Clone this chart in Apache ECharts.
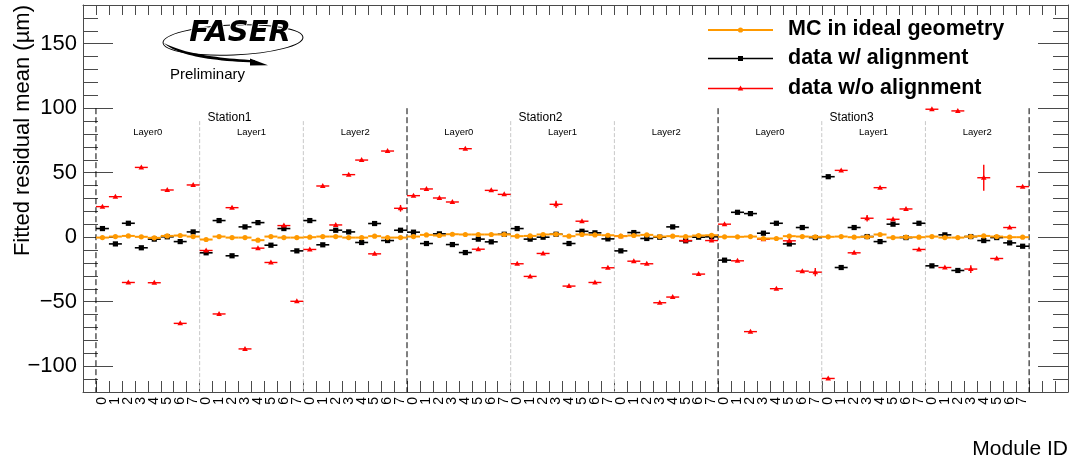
<!DOCTYPE html>
<html>
<head>
<meta charset="utf-8">
<script src="https://cdn.jsdelivr.net/npm/echarts@6/dist/echarts.min.js"></script>
<style>
  html, body { margin: 0; padding: 0; background: #ffffff; }
  #chart { width: 1073px; height: 460px; }
</style>
</head>
<body>
<div id="chart"></div>
<script>
// Tracker geometry: 3 stations x 3 layers x 8 modules
const stations = ['Station1', 'Station2', 'Station3'];
const layers = ['Layer0', 'Layer1', 'Layer2'];
const moduleIds = ['0', '1', '2', '3', '4', '5', '6', '7'];

// Fitted residual means (µm), one row per layer
const mcIdeal = [
  -0.3, 0.5, 1.0, 0.3, -0.5, 1.0, 1.3, 0.5,
  -1.8, 0.5, -0.3, -0.3, -2.3, 0.5, -0.3, -0.3,
  0.0, 0.5, 0.5, -0.3, -0.3, 0.8, -0.3, -0.3,
  0.5, 1.8, 1.3, 2.3, 2.1, 2.1, 2.1, 2.1,
  0.8, 1.0, 2.1, 2.3, 0.8, 2.1, 1.8, 1.5,
  0.8, 1.3, 1.8, 0.5, 0.8, 0.5, 1.3, 1.5,
  0.3, 0.3, 0.5, -1.0, -1.0, 0.8, 0.5, 0.3,
  0.3, 0.5, 0.0, 0.3, 2.1, -0.3, 0.0, 0.0,
  0.5, -0.3, -0.3, 0.5, 1.0, 0.5, 0.0, 0.0
];
const mcIdealErr = [
  0.5, 0.5, 0.5, 0.5, 0.5, 0.5, 0.5, 0.5,
  0.5, 0.5, 0.5, 0.5, 0.5, 0.5, 0.5, 0.5,
  0.5, 0.5, 0.5, 0.5, 0.5, 0.5, 0.5, 0.5,
  0.5, 0.5, 0.5, 0.5, 0.5, 0.5, 0.5, 0.5,
  0.5, 0.5, 0.5, 0.5, 0.5, 0.5, 0.5, 0.5,
  0.5, 0.5, 0.5, 0.5, 0.5, 0.5, 0.5, 0.5,
  0.5, 0.5, 0.5, 0.5, 0.5, 0.5, 0.5, 0.5,
  0.5, 0.5, 0.5, 0.5, 0.5, 0.5, 0.5, 0.5,
  0.5, 0.5, 0.5, 0.5, 0.5, 0.5, 0.5, 0.5
];
const dataAligned = [
  6.7, -5.2, 10.8, -8.2, -1.5, 0.3, -3.4, 4.1,
  -12.1, 12.9, -14.4, 8.0, 11.3, -6.2, 6.7, -10.6,
  12.9, -5.9, 5.4, 4.1, -4.1, 10.6, -2.6, 5.4,
  3.9, -4.9, 2.6, -5.7, -11.9, -1.5, -3.6, 2.3,
  6.7, -1.5, 0.0, 2.3, -4.9, 4.6, 3.4, -1.3,
  -10.6, 3.6, -1.0, 0.0, 8.0, -2.8, 0.0, 0.3,
  -17.8, 19.3, 18.3, 3.1, 10.8, -5.2, 7.5, -0.3,
  46.9, -23.5, 7.5, 0.5, -3.4, 10.1, -0.3, 10.8,
  -22.2, 1.8, -25.8, 0.5, -2.6, -0.3, -4.4, -7.0
];
const dataAlignedErr = [
  0.8, 0.8, 0.8, 0.8, 0.8, 0.8, 0.8, 0.8,
  0.8, 0.8, 0.8, 0.8, 0.8, 0.8, 0.8, 0.8,
  0.8, 0.8, 0.8, 0.8, 0.8, 0.8, 0.8, 0.8,
  0.8, 0.8, 0.8, 0.8, 0.8, 0.8, 0.8, 0.8,
  0.8, 0.8, 0.8, 0.8, 0.8, 0.8, 0.8, 0.8,
  0.8, 0.8, 0.8, 0.8, 0.8, 0.8, 0.8, 0.8,
  0.8, 0.8, 0.8, 0.8, 0.8, 0.8, 0.8, 0.8,
  0.8, 0.8, 0.8, 0.8, 0.8, 0.8, 0.8, 0.8,
  0.8, 0.8, 0.8, 0.8, 0.8, 0.8, 0.8, 0.8
];
const dataUnaligned = [
  23.7, 31.4, -35.1, 54.1, -35.3, 36.6, -66.8, 40.5,
  -10.3, -59.5, 22.9, -86.6, -8.5, -19.6, 9.0, -49.7,
  -9.5, 39.7, 9.5, 48.5, 59.8, -12.9, 66.8, 22.4,
  32.2, 37.4, 30.4, 27.3, 68.6, -9.3, 36.3, 33.2,
  -20.6, -30.4, -12.6, 25.5, -37.9, 12.4, -35.1, -23.7,
  0.8, -18.6, -20.6, -50.8, -46.4, -2.6, -28.6, -2.6,
  10.1, -18.3, -73.2, -1.5, -39.9, -2.8, -26.3, -27.1,
  -109.5, 51.8, -12.1, 14.7, 38.4, 13.9, 21.9, -9.5,
  99.2, -23.5, 97.9, -24.7, 46.1, -16.5, 7.5, 39.2
];
const dataUnalignedErr = [
  0.8, 0.8, 0.8, 0.8, 0.8, 0.8, 0.8, 0.8,
  0.8, 0.8, 0.8, 0.8, 0.8, 0.8, 0.8, 0.8,
  0.8, 0.8, 0.8, 0.8, 0.8, 0.8, 0.8, 2.6,
  0.8, 0.8, 0.8, 0.8, 0.8, 0.8, 0.8, 0.8,
  0.8, 0.8, 0.8, 2.8, 0.8, 0.8, 0.8, 0.8,
  0.8, 0.8, 0.8, 0.8, 0.8, 0.8, 0.8, 0.8,
  0.8, 0.8, 0.8, 0.8, 0.8, 0.8, 0.8, 3.2,
  0.8, 0.8, 0.8, 2.6, 0.8, 0.8, 0.8, 0.8,
  0.8, 0.8, 0.8, 3.0, 10.0, 0.8, 0.8, 0.8
];

const yMin = -120, yMax = 180;
const stationLineTop = 100, layerLineTop = 90;
const stationLabelY = 93, layerLabelY = 81.5;

const ORANGE = '#ff9900', BLACK = '#000000', RED = '#ff0000';
const FONT = '"Liberation Sans", Arial, Helvetica, sans-serif';

// empty bins framing the module range
const padBefore = 1, padAfter = 3;
const categories = [];
for (let i = 0; i < padBefore; i++) categories.push('');
stations.forEach(() => layers.forEach(() => moduleIds.forEach(m => categories.push(m))));
for (let i = 0; i < padAfter; i++) categories.push('');

const perStation = layers.length * moduleIds.length;

function markerShape(kind, x, y, color) {
  if (kind === 'circle') return { type: 'circle', shape: { cx: x, cy: y, r: 2.6 }, style: { fill: color } };
  if (kind === 'square') return { type: 'rect', shape: { x: x - 2.6, y: y - 2.6, width: 5.2, height: 5.2 }, style: { fill: color } };
  return { type: 'polygon', shape: { points: [[x, y - 3], [x - 2.8, y + 2], [x + 2.8, y + 2]] }, style: { fill: color } };
}

function errorBarSeries(name, values, errs, color, kind, lw, z) {
  return {
    type: 'custom',
    name: name,
    z: z,
    xAxisIndex: 0,
    yAxisIndex: 0,
    encode: { x: 0, y: 1 },
    data: values.map((v, i) => [i + padBefore, v, errs[i]]),
    renderItem: function (params, api) {
      const xi = api.value(0), v = api.value(1), e = api.value(2);
      const c = api.coord([xi, v]);
      const hi = api.coord([xi, v + e]);
      const lo = api.coord([xi, v - e]);
      const bw = api.size([1, 0])[0];
      return {
        type: 'group',
        children: [
          { type: 'line', shape: { x1: c[0] - bw / 2, y1: c[1], x2: c[0] + bw / 2, y2: c[1] }, style: { stroke: color, lineWidth: lw } },
          { type: 'line', shape: { x1: c[0], y1: hi[1], x2: c[0], y2: lo[1] }, style: { stroke: color, lineWidth: lw } },
          markerShape(kind, c[0], c[1], color)
        ]
      };
    }
  };
}

function textEl(x, y, text, font, align) {
  return {
    type: 'text', x: x, y: y,
    style: { text: text, font: font, fill: '#000', align: align, verticalAlign: 'middle', textAlign: align, textVerticalAlign: 'middle' }
  };
}

// station / layer separators and their labels
const annotationSeries = {
  type: 'custom',
  z: 1,
  silent: true,
  xAxisIndex: 0,
  yAxisIndex: 0,
  encode: { x: 0, y: 1 },
  data: stations.map((s, k) => [padBefore + k * perStation, 0]),
  renderItem: function (params, api) {
    const k = params.dataIndex;
    const start = api.value(0);
    const bw = api.size([1, 0])[0];
    const edge = idx => api.coord([idx, 0])[0] - bw / 2;
    const yBottom = api.coord([start, yMin])[1];
    const children = [];
    const stationLine = x => ({ type: 'line', shape: { x1: x, y1: api.coord([start, stationLineTop])[1], x2: x, y2: yBottom }, style: { stroke: '#000', lineWidth: 1, lineDash: [6, 3] } });
    children.push(stationLine(edge(start)));
    if (k === stations.length - 1) children.push(stationLine(edge(start + perStation)));
    children.push(textEl(edge(start + perStation / 2), api.coord([start, stationLabelY])[1], stations[k], '12px ' + FONT, 'right'));
    layers.forEach((l, j) => {
      const ls = start + j * moduleIds.length;
      if (j > 0) {
        const x = edge(ls);
        children.push({ type: 'line', shape: { x1: x, y1: api.coord([start, layerLineTop])[1], x2: x, y2: yBottom }, style: { stroke: '#c8c8c8', lineWidth: 1, lineDash: [4, 2] } });
      }
      children.push(textEl(edge(ls + moduleIds.length / 2), api.coord([start, layerLabelY])[1], l, '9.5px ' + FONT, 'center'));
    });
    return { type: 'group', children: children };
  }
};

// swoosh under the logo lettering: thin crescent between two quadratic curves
function quad(p0, p1, p2, n) {
  const pts = [];
  for (let i = 0; i <= n; i++) {
    const t = i / n, u = 1 - t;
    pts.push([u * u * p0[0] + 2 * u * t * p1[0] + t * t * p2[0], u * u * p0[1] + 2 * u * t * p1[1] + t * t * p2[1]]);
  }
  return pts;
}
const swoosh = quad([164, 43], [182, 60], [255, 62.6], 24).concat(quad([255, 60.2], [190, 57], [164, 43], 24));

const axisColor = '#4a4a4a';
const chart = echarts.init(document.getElementById('chart'), null, { renderer: 'canvas' });

const yAxisBase = {
  type: 'value', min: yMin, max: yMax,
  splitLine: { show: false },
  axisLine: { show: true, onZero: false, lineStyle: { color: axisColor, width: 1 } },
  axisTick: { show: true, inside: true, length: 30, lineStyle: { color: axisColor } },
  minorTick: { show: true, splitNumber: 5, length: 15, lineStyle: { color: axisColor } },
  minorSplitLine: { show: false }
};

chart.setOption({
  animation: false,
  backgroundColor: '#ffffff',
  grid: { left: 83, right: 5, top: 5, bottom: 68, containLabel: false },
  xAxis: [
    {
      type: 'category', data: categories, position: 'bottom', boundaryGap: true,
      axisLine: { show: true, onZero: false, lineStyle: { color: axisColor, width: 1 } },
      axisTick: { show: true, inside: true, length: 11, interval: 0, alignWithLabel: false, lineStyle: { color: axisColor } },
      axisLabel: { show: true, interval: 0, rotate: 90, margin: 5, fontSize: 14, fontFamily: FONT, color: '#000' },
      splitLine: { show: false },
      name: 'Module ID', nameLocation: 'end', nameGap: 0,
      nameTextStyle: { fontSize: 21, fontFamily: FONT, color: '#000', align: 'right', verticalAlign: 'top', padding: [47, 0, 0, 0] }
    },
    {
      type: 'category', data: categories, position: 'top', boundaryGap: true,
      axisLine: { show: true, onZero: false, lineStyle: { color: axisColor, width: 1 } },
      axisTick: { show: true, inside: true, length: 10, interval: 0, alignWithLabel: false, lineStyle: { color: axisColor } },
      axisLabel: { show: false },
      splitLine: { show: false }
    }
  ],
  yAxis: [
    Object.assign({}, yAxisBase, {
      position: 'left',
      axisLabel: {
        show: true, margin: 6, fontSize: 22, fontFamily: FONT, color: '#000',
        showMinLabel: false, showMaxLabel: false,
        formatter: v => String(v).replace('-', '\u2212')
      }
    }),
    Object.assign({}, yAxisBase, {
      position: 'right',
      axisLabel: { show: false }
    })
  ],
  graphic: [
    // axis title
    {
      type: 'text', x: 23, y: 5, rotation: Math.PI / 2,
      style: { text: 'Fitted residual mean (\u00b5m)', font: '22px ' + FONT, fill: '#000', align: 'right', verticalAlign: 'middle', textAlign: 'right', textVerticalAlign: 'middle' }
    },
    // experiment logo
    {
      type: 'group',
      children: [
        { type: 'ellipse', shape: { cx: 233, cy: 40, rx: 70, ry: 15 }, rotation: 0.04, originX: 233, originY: 40, style: { fill: 'none', stroke: '#000', lineWidth: 1 } },
        { type: 'text', x: 240, y: 33, style: { text: 'FASER', font: 'italic 900 29px "DejaVu Sans", sans-serif', fill: '#000', stroke: '#fff', lineWidth: 1.5, align: 'center', verticalAlign: 'middle', textAlign: 'center', textVerticalAlign: 'middle' } },
        { type: 'polygon', shape: { points: swoosh }, style: { fill: '#000' } },
        { type: 'polygon', shape: { points: [[250, 58.5], [268, 65.2], [250, 65.5]] }, style: { fill: '#000' } },
        { type: 'text', x: 170, y: 75, style: { text: 'Preliminary', font: '15px ' + FONT, fill: '#000', align: 'left', verticalAlign: 'middle', textAlign: 'left', textVerticalAlign: 'middle' } }
      ]
    },
    // legend
    {
      type: 'group',
      children: [
        { type: 'line', shape: { x1: 708, y1: 30, x2: 773, y2: 30 }, style: { stroke: ORANGE, lineWidth: 2 } },
        { type: 'circle', shape: { cx: 740.5, cy: 30, r: 2.6 }, style: { fill: ORANGE } },
        { type: 'text', x: 788, y: 29.5, style: { text: 'MC in ideal geometry', font: 'bold 21.5px ' + FONT, fill: '#000', align: 'left', verticalAlign: 'middle', textAlign: 'left', textVerticalAlign: 'middle' } },
        { type: 'line', shape: { x1: 708, y1: 58.5, x2: 773, y2: 58.5 }, style: { stroke: BLACK, lineWidth: 1.5 } },
        { type: 'rect', shape: { x: 738, y: 56, width: 5, height: 5 }, style: { fill: BLACK } },
        { type: 'text', x: 788, y: 58, style: { text: 'data w/ alignment', font: 'bold 21.5px ' + FONT, fill: '#000', align: 'left', verticalAlign: 'middle', textAlign: 'left', textVerticalAlign: 'middle' } },
        { type: 'line', shape: { x1: 708, y1: 88.5, x2: 773, y2: 88.5 }, style: { stroke: RED, lineWidth: 1.5 } },
        { type: 'polygon', shape: { points: [[740.5, 85.5], [737.7, 90.5], [743.3, 90.5]] }, style: { fill: RED } },
        { type: 'text', x: 788, y: 88, style: { text: 'data w/o alignment', font: 'bold 21.5px ' + FONT, fill: '#000', align: 'left', verticalAlign: 'middle', textAlign: 'left', textVerticalAlign: 'middle' } }
      ]
    }
  ],
  series: [
    annotationSeries,
    errorBarSeries('data w/ alignment', dataAligned, dataAlignedErr, BLACK, 'square', 1.6, 3),
    errorBarSeries('data w/o alignment', dataUnaligned, dataUnalignedErr, RED, 'triangle', 1.4, 4),
    errorBarSeries('MC in ideal geometry', mcIdeal, mcIdealErr, ORANGE, 'circle', 2, 5)
  ]
});
</script>
</body>
</html>
